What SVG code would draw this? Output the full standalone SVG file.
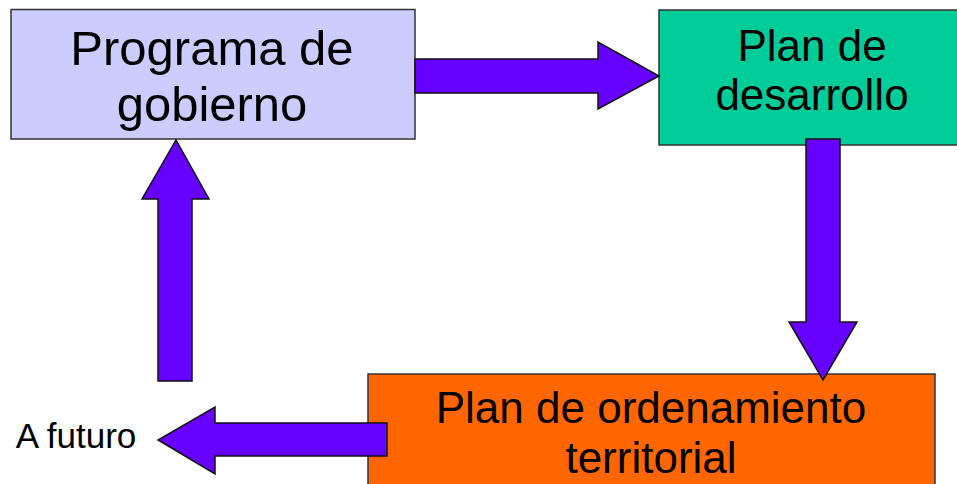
<svg xmlns="http://www.w3.org/2000/svg" width="957" height="484" viewBox="0 0 957 484">
<style>
.box{stroke:#333;stroke-width:1.5}
.arrow{fill:#6600ff;stroke:#111;stroke-width:1.5;stroke-linejoin:miter}
text{font-family:"Liberation Sans",Arial,sans-serif;fill:#000;text-anchor:middle}
</style>
<rect width="957" height="484" fill="#fff"/>
<g id="programa">
<rect class="box" x="11" y="9.5" width="404" height="129.5" fill="#ccccff"/>
<text x="212" y="65" font-size="49">Programa de</text>
<text x="212" y="121" font-size="49">gobierno</text>
</g>
<g id="desarrollo">
<rect class="box" x="659" y="10" width="310" height="135" fill="#00cc99"/>
<text x="812" y="61" font-size="44">Plan de</text>
<text x="812" y="110" font-size="44">desarrollo</text>
</g>
<g id="ordenamiento">
<rect class="box" x="368" y="374" width="567" height="120" fill="#ff6600"/>
<text x="651" y="423" font-size="44">Plan de ordenamiento</text>
<text x="651" y="473" font-size="44">territorial</text>
</g>
<g id="futuro">
<text x="76" y="448" font-size="35">A futuro</text>
</g>
<g id="connectors">
<polygon class="arrow" points="415,59 598,59 598,42 659,76 598,109 598,93 415,93"/>
<polygon class="arrow" points="806,139 840,139 840,322 857,322 823,380 789,322 806,322"/>
<polygon class="arrow" points="158,381 158,199 142,199 176,140 209,199 192,199 192,381"/>
<polygon class="arrow" points="387,423 215,423 215,407 158,440 215,474 215,456 387,456"/>
</g>
</svg>
